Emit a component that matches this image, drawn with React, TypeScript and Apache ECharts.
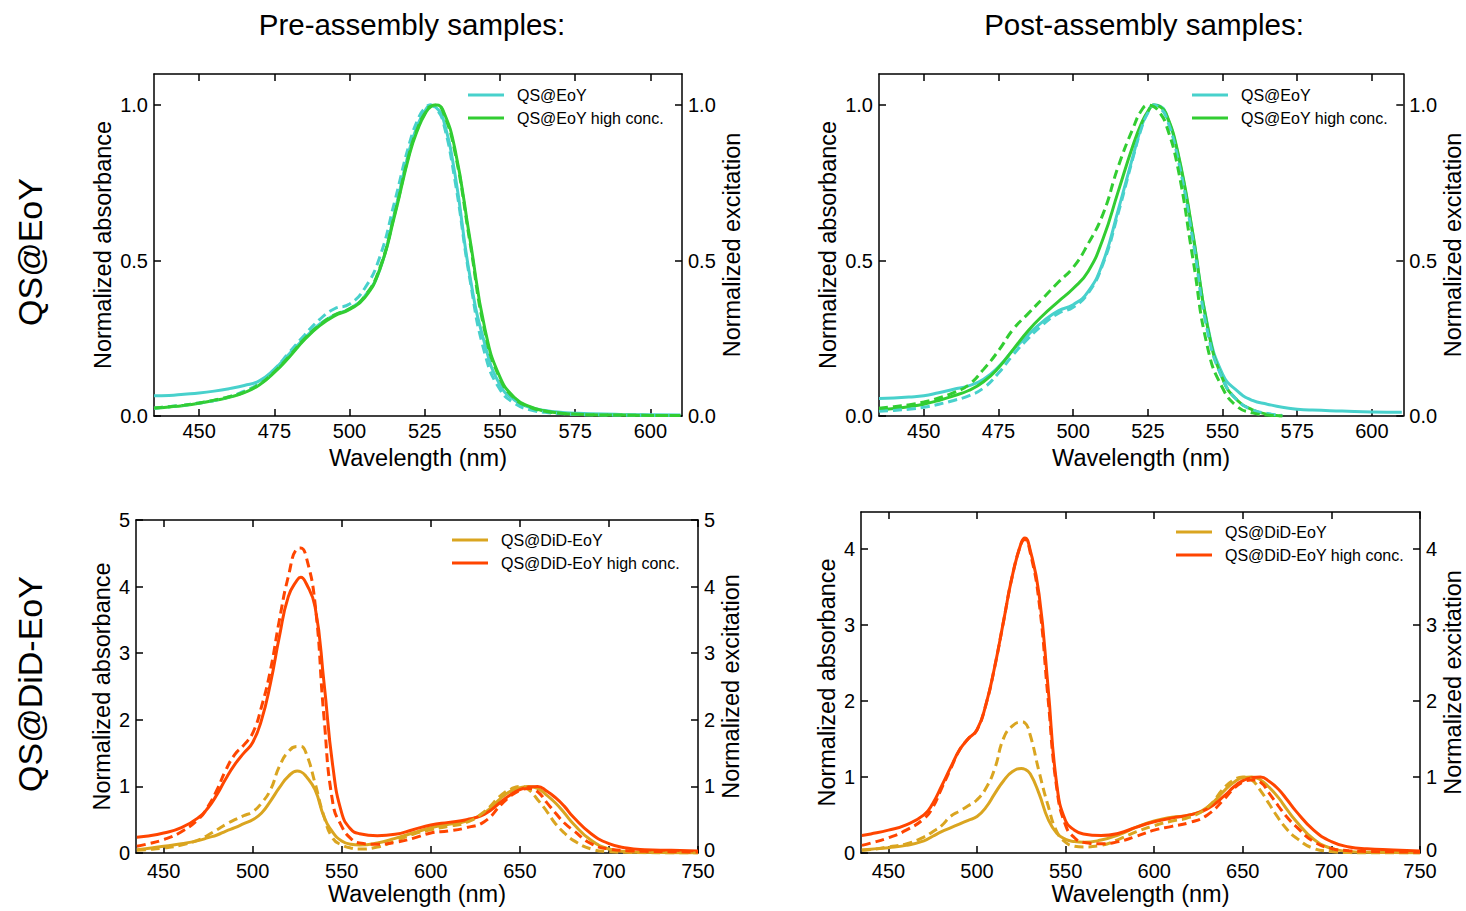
import React, { useEffect, useRef } from "react";
import * as echarts from "echarts";

const FONT = "'Liberation Sans', Arial, Helvetica, sans-serif";

// ---------- Top row (QS@EoY) ----------
const WL_TOP = [435, 440, 445, 450, 455, 460, 465, 470, 475, 480, 485, 490, 495, 500, 505, 510, 515, 520, 523, 525, 527, 529, 531, 535, 540, 545, 550, 555, 560, 565, 570, 575, 580, 590, 600, 610];

const PRE_QS_ABS = [0.065, 0.066, 0.07, 0.074, 0.08, 0.088, 0.098, 0.113, 0.15, 0.2, 0.25, 0.295, 0.325, 0.345, 0.385, 0.47, 0.655, 0.86, 0.945, 0.98, 1.0, 0.99, 0.96, 0.78, 0.45, 0.23, 0.1, 0.05, 0.028, 0.018, 0.012, 0.009, 0.007, 0.005, 0.004, 0.003];
const PRE_QS_EXC = [0.025, 0.03, 0.035, 0.042, 0.05, 0.062, 0.08, 0.105, 0.15, 0.205, 0.26, 0.31, 0.345, 0.36, 0.41, 0.51, 0.69, 0.88, 0.96, 0.99, 1.0, 0.985, 0.95, 0.76, 0.44, 0.2, 0.085, 0.04, 0.02, 0.012, 0.008, 0.005, 0.004, 0.003, 0.002, 0.002];
const PRE_HC_ABS = [0.025, 0.029, 0.034, 0.041, 0.05, 0.06, 0.075, 0.1, 0.14, 0.19, 0.245, 0.29, 0.322, 0.343, 0.38, 0.47, 0.645, 0.845, 0.93, 0.97, 0.995, 1.0, 0.985, 0.86, 0.57, 0.28, 0.125, 0.058, 0.03, 0.016, 0.009, 0.006, 0.004, 0.003, 0.002, 0.002];
const PRE_HC_EXC = [0.026, 0.03, 0.035, 0.042, 0.051, 0.062, 0.077, 0.102, 0.142, 0.193, 0.248, 0.292, 0.325, 0.345, 0.384, 0.475, 0.65, 0.85, 0.935, 0.973, 0.997, 1.0, 0.98, 0.85, 0.56, 0.27, 0.12, 0.055, 0.028, 0.015, 0.009, 0.006, 0.004, 0.003, 0.002, 0.002];

const POST_QS_ABS = [0.056, 0.058, 0.061, 0.065, 0.075, 0.086, 0.097, 0.118, 0.158, 0.213, 0.262, 0.305, 0.338, 0.358, 0.4, 0.495, 0.66, 0.835, 0.935, 0.978, 1.0, 0.997, 0.973, 0.845, 0.585, 0.29, 0.135, 0.08, 0.05, 0.038, 0.028, 0.022, 0.019, 0.016, 0.013, 0.012];
const POST_QS_EXC = [0.015, 0.018, 0.022, 0.028, 0.038, 0.05, 0.065, 0.09, 0.138, 0.198, 0.25, 0.295, 0.33, 0.35, 0.395, 0.49, 0.65, 0.83, 0.93, 0.975, 1.0, 0.99, 0.965, 0.83, 0.57, 0.27, 0.12, 0.05, 0.02, 0.008, 0.002, null, null, null, null, null];
const POST_HC_ABS = [0.02, 0.024, 0.03, 0.038, 0.05, 0.065, 0.082, 0.11, 0.155, 0.215, 0.275, 0.325, 0.368, 0.41, 0.465, 0.57, 0.72, 0.87, 0.945, 0.98, 1.0, 0.995, 0.975, 0.85, 0.59, 0.285, 0.12, 0.05, 0.02, 0.006, 0.0, null, null, null, null, null];
const POST_HC_EXC = [0.025, 0.03, 0.036, 0.045, 0.058, 0.075, 0.1, 0.15, 0.21, 0.28, 0.33, 0.38, 0.43, 0.478, 0.554, 0.65, 0.8, 0.925, 0.985, 1.0, 0.995, 0.975, 0.94, 0.8, 0.51, 0.22, 0.09, 0.03, 0.01, 0.003, 0.0, null, null, null, null, null];

// ---------- Bottom row (QS@DiD-EoY) ----------
const WL_BOT = [435, 440, 450, 460, 470, 475, 480, 485, 490, 495, 500, 505, 510, 515, 520, 525, 527, 530, 535, 540, 545, 550, 555, 560, 570, 580, 590, 600, 610, 620, 630, 640, 645, 650, 655, 660, 665, 670, 675, 680, 690, 700, 710, 720, 735, 750];

const PRE_DID_ABS = [0.05, 0.065, 0.1, 0.14, 0.19, 0.23, 0.27, 0.33, 0.38, 0.44, 0.5, 0.6, 0.78, 0.98, 1.15, 1.23, 1.22, 1.15, 0.95, 0.55, 0.31, 0.18, 0.13, 0.12, 0.15, 0.22, 0.3, 0.38, 0.43, 0.48, 0.6, 0.84, 0.93, 0.98, 1.0, 0.97, 0.87, 0.75, 0.6, 0.44, 0.19, 0.06, 0.02, 0.01, 0.005, 0.0];
const PRE_DID_EXC = [0.04, 0.05, 0.075, 0.12, 0.2, 0.27, 0.35, 0.43, 0.5, 0.56, 0.62, 0.75, 0.95, 1.3, 1.52, 1.6, 1.6, 1.5, 1.05, 0.55, 0.22, 0.12, 0.075, 0.06, 0.09, 0.18, 0.28, 0.35, 0.4, 0.46, 0.62, 0.88, 0.96, 1.0, 0.95, 0.8, 0.63, 0.44, 0.3, 0.19, 0.06, 0.02, 0.01, 0.005, 0.0, 0.0];
const PRE_DIDHC_ABS = [0.235, 0.25, 0.3, 0.38, 0.54, 0.68, 0.88, 1.12, 1.33, 1.5, 1.66, 2.0, 2.55, 3.25, 3.85, 4.1, 4.14, 4.05, 3.7, 2.57, 1.3, 0.6, 0.36, 0.29, 0.26, 0.28, 0.35, 0.42, 0.46, 0.5, 0.58, 0.78, 0.88, 0.95, 0.99, 1.0, 0.93, 0.83, 0.7, 0.54, 0.29, 0.14, 0.075, 0.05, 0.04, 0.03];
const PRE_DIDHC_EXC = [0.1, 0.13, 0.2, 0.32, 0.52, 0.7, 0.95, 1.25, 1.48, 1.62, 1.8, 2.2, 2.75, 3.5, 4.15, 4.57, 4.58, 4.45, 3.75, 2.05, 0.75, 0.4, 0.22, 0.15, 0.13, 0.16, 0.22, 0.3, 0.33, 0.38, 0.47, 0.74, 0.86, 0.94, 0.97, 0.92, 0.76, 0.6, 0.45, 0.34, 0.14, 0.06, 0.035, 0.025, 0.02, 0.015];

const POST_DID_ABS = [0.04, 0.05, 0.07, 0.1, 0.16, 0.22, 0.28, 0.33, 0.38, 0.43, 0.48, 0.6, 0.78, 0.95, 1.07, 1.11, 1.1, 1.04, 0.78, 0.45, 0.26, 0.18, 0.15, 0.14, 0.17, 0.24, 0.34, 0.42, 0.47, 0.5, 0.6, 0.83, 0.93, 0.99, 1.0, 0.96, 0.86, 0.73, 0.57, 0.42, 0.18, 0.06, 0.02, 0.01, 0.005, 0.0];
const POST_DID_EXC = [0.035, 0.045, 0.08, 0.12, 0.21, 0.28, 0.36, 0.48, 0.55, 0.62, 0.7, 0.85, 1.11, 1.51, 1.67, 1.72, 1.71, 1.55, 1.07, 0.63, 0.28, 0.14, 0.09, 0.08, 0.1, 0.18, 0.28, 0.36, 0.42, 0.47, 0.6, 0.87, 0.96, 1.0, 0.96, 0.82, 0.64, 0.46, 0.31, 0.2, 0.06, 0.02, 0.005, 0.0, 0.0, 0.0];
const POST_DIDHC_ABS = [0.23, 0.25, 0.3, 0.37, 0.5, 0.65, 0.88, 1.12, 1.35, 1.5, 1.62, 1.95, 2.45, 3.05, 3.65, 4.08, 4.14, 3.98, 3.4, 2.2, 0.9, 0.42, 0.3, 0.25, 0.23, 0.26, 0.34, 0.41, 0.46, 0.5, 0.58, 0.76, 0.87, 0.95, 0.99, 1.0, 0.94, 0.84, 0.7, 0.55, 0.3, 0.15, 0.08, 0.055, 0.04, 0.025];
const POST_DIDHC_EXC = [0.1, 0.13, 0.2, 0.3, 0.45, 0.6, 0.85, 1.1, 1.35, 1.5, 1.62, 1.95, 2.45, 3.05, 3.65, 4.07, 4.12, 3.95, 3.3, 2.05, 0.85, 0.36, 0.2, 0.14, 0.12, 0.15, 0.22, 0.3, 0.35, 0.4, 0.5, 0.72, 0.85, 0.93, 0.96, 0.93, 0.78, 0.62, 0.47, 0.35, 0.15, 0.06, 0.03, 0.02, 0.015, 0.01];

// ---------- tick labels ----------
const X_TICKS_TOP = [450, 475, 500, 525, 550, 575, 600];
const X_TICKS_BOT = [450, 500, 550, 600, 650, 700, 750];
const Y_TICKS_TOP = [0, 0.5, 1.0];
const Y_TICKS_BL = [0, 1, 2, 3, 4, 5];
const Y_TICKS_BR = [0, 1, 2, 3, 4];

const NAMES_TOP = ["QS@EoY", "QS@EoY high conc."];
const NAMES_BOT = ["QS@DiD-EoY", "QS@DiD-EoY high conc."];
const COLUMN_TITLES = ["Pre-assembly samples:", "Post-assembly samples:"];
const ROW_TITLES = ["QS@EoY", "QS@DiD-EoY"];

const CYAN = "#48D1CC";
const GREEN = "#32CD32";
const GOLD = "#DAA520";
const ORANGE = "#FF4500";

type Curve = { name: string; xs: number[]; ys: (number | null)[]; color: string; dashed: boolean };

function pairs(xs: number[], ys: (number | null)[]) {
  const out: number[][] = [];
  for (let i = 0; i < xs.length; i++) {
    if (ys[i] !== null && ys[i] !== undefined) out.push([xs[i], ys[i] as number]);
  }
  return out;
}

const PANELS = [
  {
    left: 154, top: 74, width: 528, height: 342,
    xMin: 435, xMax: 610.5, xTicks: X_TICKS_TOP, xLabelMargin: 7, liftRightZero: false,
    yMax: 1.1, yTicks: Y_TICKS_TOP, dec: 1,
    xGap: 30, yGapL: 39, yGapR: 35,
    legendLeft: 468, legendTop: 87, legendNames: NAMES_TOP,
    curves: [
      { name: NAMES_TOP[0], xs: WL_TOP, ys: PRE_QS_ABS, color: CYAN, dashed: false },
      { name: NAMES_TOP[0] + " excitation", xs: WL_TOP, ys: PRE_QS_EXC, color: CYAN, dashed: true },
      { name: NAMES_TOP[1], xs: WL_TOP, ys: PRE_HC_ABS, color: GREEN, dashed: false },
      { name: NAMES_TOP[1] + " excitation", xs: WL_TOP, ys: PRE_HC_EXC, color: GREEN, dashed: true },
    ] as Curve[],
  },
  {
    left: 879, top: 74, width: 527, height: 342,
    xMin: 435, xMax: 610.5, xTicks: X_TICKS_TOP, xLabelMargin: 7, liftRightZero: false,
    yMax: 1.1, yTicks: Y_TICKS_TOP, dec: 1,
    xGap: 30, yGapL: 39, yGapR: 35,
    legendLeft: 1192, legendTop: 87, legendNames: NAMES_TOP,
    curves: [
      { name: NAMES_TOP[0], xs: WL_TOP, ys: POST_QS_ABS, color: CYAN, dashed: false },
      { name: NAMES_TOP[0] + " excitation", xs: WL_TOP, ys: POST_QS_EXC, color: CYAN, dashed: true },
      { name: NAMES_TOP[1], xs: WL_TOP, ys: POST_HC_ABS, color: GREEN, dashed: false },
      { name: NAMES_TOP[1] + " excitation", xs: WL_TOP, ys: POST_HC_EXC, color: GREEN, dashed: true },
    ] as Curve[],
  },
  {
    left: 136, top: 520, width: 562, height: 333,
    xMin: 434.5, xMax: 750, xTicks: X_TICKS_BOT, xLabelMargin: 10, liftRightZero: true,
    yMax: 5, yTicks: Y_TICKS_BL, dec: 0,
    xGap: 28, yGapL: 22, yGapR: 20,
    legendLeft: 452, legendTop: 532, legendNames: NAMES_BOT,
    curves: [
      { name: NAMES_BOT[0], xs: WL_BOT, ys: PRE_DID_ABS, color: GOLD, dashed: false },
      { name: NAMES_BOT[0] + " excitation", xs: WL_BOT, ys: PRE_DID_EXC, color: GOLD, dashed: true },
      { name: NAMES_BOT[1], xs: WL_BOT, ys: PRE_DIDHC_ABS, color: ORANGE, dashed: false },
      { name: NAMES_BOT[1] + " excitation", xs: WL_BOT, ys: PRE_DIDHC_EXC, color: ORANGE, dashed: true },
    ] as Curve[],
  },
  {
    left: 861, top: 512, width: 562, height: 341,
    xMin: 434.5, xMax: 750, xTicks: X_TICKS_BOT, xLabelMargin: 10, liftRightZero: true,
    yMax: 4.48, yTicks: Y_TICKS_BR, dec: 0,
    xGap: 28, yGapL: 22, yGapR: 20,
    legendLeft: 1176, legendTop: 524, legendNames: NAMES_BOT,
    curves: [
      { name: NAMES_BOT[0], xs: WL_BOT, ys: POST_DID_ABS, color: GOLD, dashed: false },
      { name: NAMES_BOT[0] + " excitation", xs: WL_BOT, ys: POST_DID_EXC, color: GOLD, dashed: true },
      { name: NAMES_BOT[1], xs: WL_BOT, ys: POST_DIDHC_ABS, color: ORANGE, dashed: false },
      { name: NAMES_BOT[1] + " excitation", xs: WL_BOT, ys: POST_DIDHC_EXC, color: ORANGE, dashed: true },
    ] as Curve[],
  },
];

function buildOption() {
  const AX = { color: "#000", width: 1.5 };
  const labelStyle = { color: "#000", fontSize: 20, fontFamily: FONT };
  const nameStyle = { color: "#000", fontSize: 23.5, fontFamily: FONT };
  const grid: any[] = [];
  const xAxis: any[] = [];
  const yAxis: any[] = [];
  const series: any[] = [];
  const legend: any[] = [];

  PANELS.forEach((p, i) => {
    grid.push({ left: p.left, top: p.top, width: p.width, height: p.height, show: false });
    xAxis.push({
      type: "value", gridIndex: i, position: "bottom", min: p.xMin, max: p.xMax,
      axisLine: { show: true, onZero: false, lineStyle: AX },
      axisTick: { show: true, inside: true, length: 7, lineStyle: AX, customValues: p.xTicks },
      axisLabel: { show: true, customValues: p.xTicks, margin: p.xLabelMargin, lineHeight: 16, ...labelStyle },
      splitLine: { show: false },
      name: "Wavelength (nm)", nameLocation: "middle", nameGap: p.xGap, nameTextStyle: nameStyle,
    });
    xAxis.push({
      type: "value", gridIndex: i, position: "top", min: p.xMin, max: p.xMax,
      axisLine: { show: true, onZero: false, lineStyle: AX },
      axisTick: { show: true, inside: true, length: 7, lineStyle: AX, customValues: p.xTicks },
      axisLabel: { show: false },
      splitLine: { show: false },
    });
    const fmt = (v: number) => v.toFixed(p.dec);
    const fmtRight = (v: number) => (p.liftRightZero && v === 0 ? "{z|" + v.toFixed(p.dec) + "}" : v.toFixed(p.dec));
    yAxis.push({
      type: "value", gridIndex: i, position: "left", min: 0, max: p.yMax,
      axisLine: { show: true, onZero: false, lineStyle: AX },
      axisTick: { show: true, inside: true, length: 7, lineStyle: AX, customValues: p.yTicks },
      axisLabel: { show: true, customValues: p.yTicks, formatter: fmt, margin: 6, lineHeight: 12, ...labelStyle },
      splitLine: { show: false },
      name: "Normalized absorbance", nameLocation: "middle", nameRotate: 90, nameGap: p.yGapL, nameTextStyle: nameStyle,
    });
    yAxis.push({
      type: "value", gridIndex: i, position: "right", min: 0, max: p.yMax,
      axisLine: { show: true, onZero: false, lineStyle: AX },
      axisTick: { show: true, inside: true, length: 7, lineStyle: AX, customValues: p.yTicks },
      axisLabel: {
        show: true, customValues: p.yTicks, formatter: fmtRight, margin: 6, lineHeight: 12, ...labelStyle,
        rich: { z: { color: "#000", fontSize: 20, fontFamily: FONT, lineHeight: 12, padding: [0, 0, 6, 0] } },
      },
      splitLine: { show: false },
      name: "Normalized excitation", nameLocation: "middle", nameRotate: 90, nameGap: p.yGapR, nameTextStyle: nameStyle,
    });
    p.curves.forEach((c) => {
      series.push({
        type: "line", name: c.name, xAxisIndex: 2 * i, yAxisIndex: c.dashed ? 2 * i + 1 : 2 * i,
        data: pairs(c.xs, c.ys), showSymbol: false, symbol: "none", smooth: 0.5,
        color: c.color,
        lineStyle: { color: c.color, width: 3, type: c.dashed ? [9, 5] : "solid" },
        itemStyle: { color: c.color },
        z: c.dashed ? 3 : 2,
      });
    });
    legend.push({
      orient: "vertical", left: p.legendLeft, top: p.legendTop, data: p.legendNames,
      icon: "rect", itemWidth: 36, itemHeight: 3, itemGap: 7, padding: 0,
      textStyle: { color: "#000", fontSize: 16, fontFamily: FONT, padding: [0, 0, 0, 8] },
      selectedMode: false,
    });
  });

  const graphic: any[] = [
    { type: "text", x: 412, y: 24, style: { text: COLUMN_TITLES[0], fontSize: 29.5, fontFamily: FONT, fill: "#000", align: "center", verticalAlign: "middle" } },
    { type: "text", x: 1144, y: 24, style: { text: COLUMN_TITLES[1], fontSize: 29.5, fontFamily: FONT, fill: "#000", align: "center", verticalAlign: "middle" } },
    { type: "text", x: 30, y: 252, rotation: Math.PI / 2, style: { text: ROW_TITLES[0], fontSize: 34, fontFamily: FONT, fill: "#000", align: "center", verticalAlign: "middle" } },
    { type: "text", x: 30, y: 684, rotation: Math.PI / 2, style: { text: ROW_TITLES[1], fontSize: 34, fontFamily: FONT, fill: "#000", align: "center", verticalAlign: "middle" } },
  ];

  return { animation: false, backgroundColor: "#fff", grid, xAxis, yAxis, series, legend, graphic };
}

export default function App() {
  const ref = useRef<HTMLDivElement | null>(null);
  useEffect(() => {
    if (!ref.current) return;
    const chart = echarts.init(ref.current, undefined, { renderer: "svg" });
    chart.setOption(buildOption() as any);
    return () => chart.dispose();
  }, []);
  return (
    <div
      ref={ref}
      style={{ position: "absolute", left: 0, top: 0, width: 1466, height: 911, background: "#fff" }}
    />
  );
}
